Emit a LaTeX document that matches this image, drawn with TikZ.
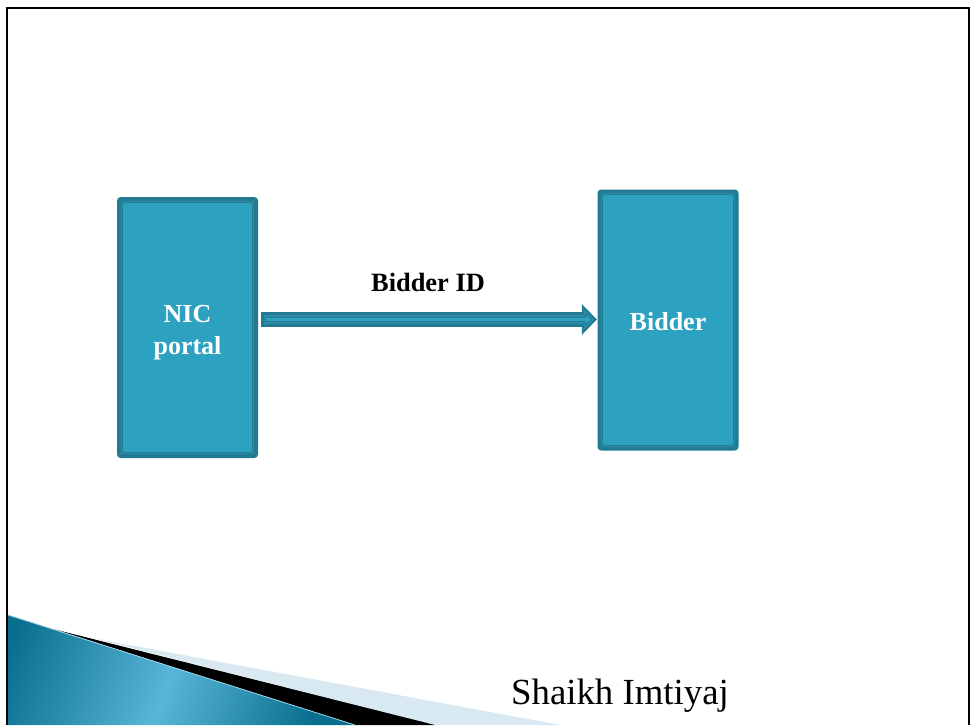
\documentclass[tikz,border=0pt]{standalone}
\usepackage{fontspec}
\setmainfont{Liberation Serif}
\usetikzlibrary{arrows.meta}
\definecolor{boxfill}{HTML}{2DA2C0}
\definecolor{boxedge}{HTML}{237A93}
\definecolor{boxmid}{HTML}{2A8CA8}
\definecolor{paleband}{HTML}{D8E9F1}
\definecolor{wedgedark}{HTML}{0A6F8F}
\definecolor{wedgelight}{HTML}{58B6D8}
\pgfdeclarehorizontalshading{wedgeshade}{100bp}{color(0bp)=(wedgedark); color(26bp)=(wedgedark); color(50bp)=(wedgelight); color(72bp)=(wedgedark); color(100bp)=(wedgedark)}
\tikzset{
  x=0.75pt,y=-0.75pt,
  box/.style={draw=boxedge,fill=boxfill,line width=3pt,rounded corners=1.5pt,inner sep=0pt,
    minimum width=102.75pt,minimum height=192.75pt},
  boxband/.style={draw=boxmid,line width=1pt},
  boxline/.style={draw=boxedge,line width=0.6pt},
  boxlabel/.style={text=white,font=\bfseries\fontsize{19.5}{24}\selectfont,align=center},
  flow/.style={line width=10.8pt,draw=boxedge,-{Triangle[length=11.25pt,width=22.5pt,fill=boxedge]},shorten <=2.3pt,shorten >=0.5pt},
  flowmid/.style={line width=6.6pt,draw=boxmid,-{Triangle[length=8pt,width=15pt,fill=boxmid]},shorten <=4.3pt,shorten >=2.5pt},
  flowline/.style={line width=4pt,draw=boxedge,-{Triangle[length=5.5pt,width=9pt,fill=boxedge]},shorten <=5.3pt,shorten >=4pt},
  flowin/.style={line width=2.6pt,draw=boxfill,-{Triangle[length=3.5pt,width=5.5pt,fill=boxfill]},shorten <=6.3pt,shorten >=5pt},
}
\begin{document}
\begin{tikzpicture}
\useasboundingbox (0,0) rectangle (971,725);
\fill[white] (0,0) rectangle (971,725);
\begin{scope}
\clip (0,0) rectangle (971,725);
\fill[paleband] (97,639) -- (560,725) -- (435,725) -- cycle;
\fill[black] (55,629.5) -- (435,725) -- (355,725) -- cycle;
\begin{scope}
\clip (8,615) -- (355,725) -- (8,725) -- cycle;
\shade[shading=wedgeshade,shading angle=-20] (-30,600) rectangle (360,780);
\end{scope}
\draw[wedgelight!60!white,line width=0.6pt] (8,615) -- (355,725);
\draw[black,line width=1.9pt] (7,725) -- (7,8) -- (969,8) -- (969,725);
\end{scope}
\node[box] (nic) at (187.5,327.5) {};
\node[box] (bidder) at (668,320) {};
\draw[boxband] (121.5,201.5) rectangle (253.5,453.5);
\draw[boxline] (122.5,202.5) rectangle (252.5,452.5);
\draw[boxband] (601.5,193.5) rectangle (734.5,446.5);
\draw[boxline] (602.5,194.5) rectangle (733.5,445.5);
\node[boxlabel] (niclabel) at (187.5,333) {NIC\\portal};
\node[boxlabel] (bidderlabel) at (668,321.5) {Bidder};
\coordinate (from) at (nic.east |- 0,319.5);
\coordinate (to) at (bidder.west |- 0,319.5);
\draw[flow] (from) -- (to);
\draw[flowmid] (from) -- (to);
\draw[flowline] (from) -- (to);
\draw[flowin] (from) -- (to);
\node[font=\bfseries\fontsize{19.8}{24}\selectfont] (flowlabel) at (428,282) {Bidder ID};
\node[font=\fontsize{27.6}{33}\selectfont] (author) at (620,696) {Shaikh Imtiyaj};
\end{tikzpicture}
\end{document}
